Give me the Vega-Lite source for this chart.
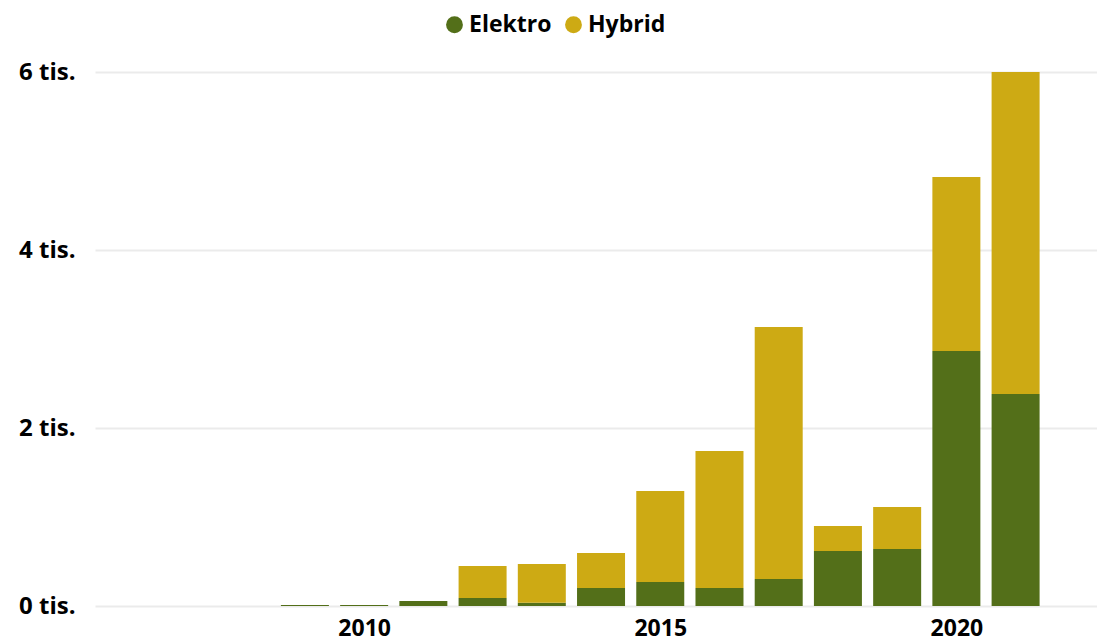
{
  "$schema": "https://vega.github.io/schema/vega-lite/v6.json",
  "width": 1002,
  "height": 534,
  "autosize": "none",
  "padding": {"left": 95, "top": 72, "right": 0, "bottom": 37},
  "background": "white",
  "config": {
    "view": {"stroke": null},
    "font": "Open Sans"
  },
  "data": {
    "values": [
      {"rok": 2009, "typ": "Elektro", "pocet": 12},
      {"rok": 2009, "typ": "Hybrid", "pocet": 0},
      {"rok": 2010, "typ": "Elektro", "pocet": 12},
      {"rok": 2010, "typ": "Hybrid", "pocet": 0},
      {"rok": 2011, "typ": "Elektro", "pocet": 56},
      {"rok": 2011, "typ": "Hybrid", "pocet": 0},
      {"rok": 2012, "typ": "Elektro", "pocet": 90},
      {"rok": 2012, "typ": "Hybrid", "pocet": 360},
      {"rok": 2013, "typ": "Elektro", "pocet": 37},
      {"rok": 2013, "typ": "Hybrid", "pocet": 435},
      {"rok": 2014, "typ": "Elektro", "pocet": 202},
      {"rok": 2014, "typ": "Hybrid", "pocet": 394},
      {"rok": 2015, "typ": "Elektro", "pocet": 270},
      {"rok": 2015, "typ": "Hybrid", "pocet": 1022},
      {"rok": 2016, "typ": "Elektro", "pocet": 202},
      {"rok": 2016, "typ": "Hybrid", "pocet": 1540},
      {"rok": 2017, "typ": "Elektro", "pocet": 303},
      {"rok": 2017, "typ": "Hybrid", "pocet": 2832},
      {"rok": 2018, "typ": "Elektro", "pocet": 618},
      {"rok": 2018, "typ": "Hybrid", "pocet": 281},
      {"rok": 2019, "typ": "Elektro", "pocet": 640},
      {"rok": 2019, "typ": "Hybrid", "pocet": 472},
      {"rok": 2020, "typ": "Elektro", "pocet": 2865},
      {"rok": 2020, "typ": "Hybrid", "pocet": 1955},
      {"rok": 2021, "typ": "Elektro", "pocet": 2382},
      {"rok": 2021, "typ": "Hybrid", "pocet": 3618}
    ]
  },
  "mark": {"type": "bar", "size": 48},
  "encoding": {
    "x": {
      "field": "rok",
      "type": "quantitative",
      "scale": {"domain": [2005.54, 2022.29], "nice": false, "zero": false},
      "axis": {
        "title": null,
        "values": [2010, 2015, 2020],
        "format": "d",
        "grid": false,
        "domain": false,
        "ticks": false,
        "tickSize": 0,
        "labelPadding": 11,
        "labelFontSize": 23,
        "labelFontWeight": "bold",
        "labelColor": "#000000",
        "labelFlush": false
      }
    },
    "y": {
      "field": "pocet",
      "type": "quantitative",
      "stack": "zero",
      "scale": {"domain": [0, 6000], "nice": false},
      "axis": {
        "title": null,
        "values": [0, 2000, 4000, 6000],
        "labelExpr": "format(datum.value / 1000, 'd') + ' tis.'",
        "grid": true,
        "gridColor": "#ebebeb",
        "gridWidth": 2,
        "domain": false,
        "ticks": false,
        "tickSize": 0,
        "labelPadding": 20,
        "labelFontSize": 24,
        "labelFontWeight": "bold",
        "labelColor": "#000000",
        "labelBaseline": "middle"
      }
    },
    "color": {
      "field": "typ",
      "type": "nominal",
      "scale": {"domain": ["Elektro", "Hybrid"], "range": ["#536f19", "#cdaa14"]},
      "legend": {
        "title": null,
        "orient": "none",
        "direction": "horizontal",
        "legendX": 348,
        "legendY": -59,
        "symbolType": "circle",
        "symbolSize": 283,
        "symbolStrokeWidth": 0,
        "symbolOpacity": 1,
        "labelFontSize": 23,
        "labelFontWeight": "bold",
        "labelColor": "#000000",
        "labelOffset": 3,
        "columnPadding": 10
      }
    },
    "order": {"field": "typ", "sort": "ascending"}
  }
}
